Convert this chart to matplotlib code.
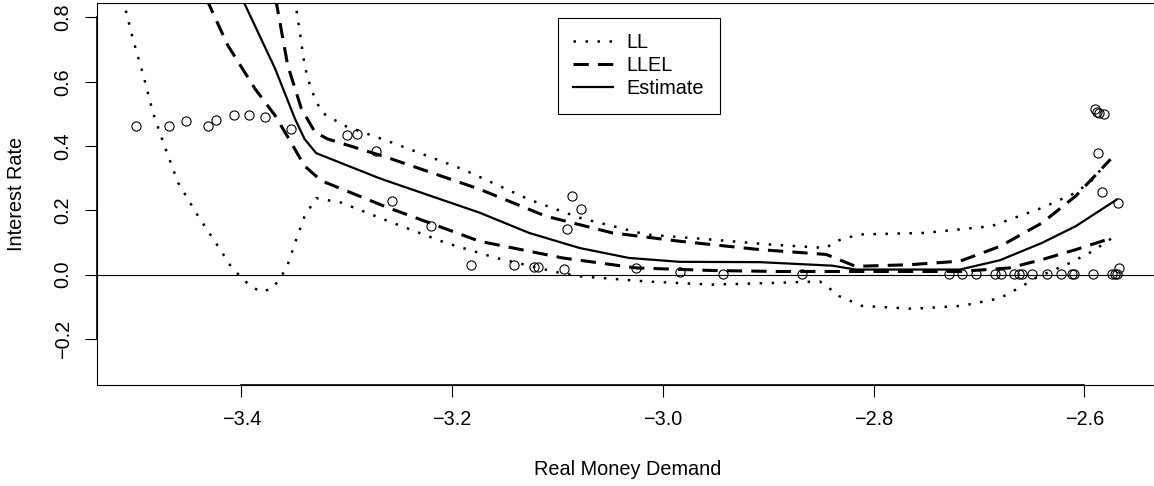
import matplotlib.pyplot as plt
import matplotlib.transforms as mtransforms

plt.rcParams['font.family'] = ['Liberation Sans', 'DejaVu Sans']

# observed points
obs_x = [-3.500, -3.469, -3.453, -3.432, -3.424, -3.407, -3.393, -3.378, -3.353,
         -3.300, -3.290, -3.272, -3.257, -3.220, -3.182, -3.141, -3.122, -3.118,
         -3.094, -3.091, -3.086, -3.078, -3.025, -2.984, -2.943, -2.868, -2.728,
         -2.716, -2.703, -2.685, -2.679, -2.667, -2.662, -2.659, -2.650, -2.635,
         -2.622, -2.612, -2.610, -2.592, -2.574, -2.571, -2.569, -2.567, -2.568,
         -2.583, -2.587, -2.590, -2.588, -2.586, -2.581]
obs_y = [0.463, 0.463, 0.477, 0.463, 0.482, 0.496, 0.496, 0.491, 0.454,
         0.433, 0.437, 0.386, 0.230, 0.150, 0.030, 0.030, 0.023, 0.023,
         0.019, 0.143, 0.246, 0.203, 0.020, 0.008, 0.002, 0.002, 0.001,
         0.001, 0.001, 0.001, 0.001, 0.001, 0.001, 0.001, 0.001, 0.001,
         0.001, 0.001, 0.001, 0.001, 0.001, 0.001, 0.001, 0.021, 0.223,
         0.256, 0.378, 0.515, 0.506, 0.502, 0.499]

# estimate
est_x = [-3.405, -3.398, -3.368, -3.349, -3.340, -3.329, -3.269, -3.255, -3.174,
         -3.127, -3.079, -3.032, -2.984, -2.908, -2.839, -2.817, -2.718, -2.680,
         -2.640, -2.608, -2.569]
est_y = [0.90, 0.85, 0.641, 0.484, 0.422, 0.378, 0.300, 0.284, 0.193,
         0.130, 0.083, 0.052, 0.040, 0.039, 0.028, 0.016, 0.016, 0.045,
         0.099, 0.151, 0.234]

# LLEL bands
llel_hi_x = [-3.369, -3.367, -3.356, -3.343, -3.330, -3.318, -3.262, -3.174, -3.111,
             -3.048, -2.984, -2.908, -2.845, -2.817, -2.766, -2.718, -2.680, -2.640,
             -2.608, -2.575]
llel_hi_y = [0.90, 0.85, 0.651, 0.516, 0.443, 0.422, 0.365, 0.266, 0.182,
             0.130, 0.104, 0.078, 0.063, 0.026, 0.031, 0.042, 0.088, 0.161,
             0.245, 0.359]
llel_lo_x = [-3.439, -3.432, -3.413, -3.387, -3.368, -3.353, -3.340, -3.324, -3.262,
             -3.174, -3.095, -3.025, -2.953, -2.890, -2.814, -2.718, -2.671, -2.640,
             -2.608, -2.573]
llel_lo_y = [0.90, 0.85, 0.714, 0.578, 0.495, 0.412, 0.338, 0.292, 0.210,
             0.104, 0.052, 0.021, 0.013, 0.010, 0.010, 0.010, 0.021, 0.047,
             0.078, 0.115]

# LL bands
ll_hi_x = [-3.350, -3.349, -3.345, -3.340, -3.334, -3.324, -3.302, -3.258, -3.190,
           -3.127, -3.079, -3.016, -2.953, -2.899, -2.845, -2.836, -2.814, -2.751,
           -2.688, -2.640, -2.608, -2.590, -2.585]
ll_hi_y = [0.90, 0.85, 0.766, 0.651, 0.578, 0.505, 0.463, 0.412, 0.328,
           0.234, 0.177, 0.125, 0.109, 0.094, 0.083, 0.104, 0.125, 0.130,
           0.151, 0.208, 0.255, 0.300, 0.325]
ll_lo_x = [-3.516, -3.512, -3.509, -3.503, -3.493, -3.484, -3.473, -3.460, -3.441,
           -3.422, -3.409, -3.392, -3.381, -3.370, -3.357, -3.349, -3.340, -3.329,
           -3.305, -3.261, -3.206, -3.158, -3.101, -3.079, -3.016, -2.953, -2.899,
           -2.851, -2.842, -2.833, -2.811, -2.763, -2.716, -2.680, -2.659, -2.646,
           -2.614, -2.592, -2.570]
ll_lo_y = [0.90, 0.85, 0.813, 0.734, 0.620, 0.505, 0.401, 0.286, 0.182,
           0.088, 0.021, -0.034, -0.054, -0.042, 0.021, 0.099, 0.182, 0.238,
           0.224, 0.167, 0.099, 0.052, 0.008, -0.005, -0.021, -0.031, -0.026,
           -0.021, -0.042, -0.066, -0.097, -0.106, -0.097, -0.073, -0.036, -0.010,
           0.036, 0.073, 0.122]

x_ticks = [-3.4, -3.2, -3.0, -2.8, -2.6]
y_ticks = [-0.2, 0.0, 0.2, 0.4, 0.6, 0.8]

fs = 14.3
dot = (0, (1, 3.8))
dash = (0, (5, 3))

fig = plt.figure(figsize=(11.54, 4.86), dpi=100)
ax = fig.add_axes([97 / 1154, 1 - 385.3 / 486, 1061 / 1154, 382 / 486])

ax.axhline(0, color='black', lw=0.8)
ax.plot(obs_x, obs_y, 'o', mfc='none', mec='black', ms=6.6, mew=0.8)

ax.plot(ll_lo_x, ll_lo_y, color='black', lw=1.8, linestyle=dot, label='LL')
ax.plot(ll_hi_x, ll_hi_y, color='black', lw=1.8, linestyle=dot)
ax.plot(llel_lo_x, llel_lo_y, color='black', lw=2.2, linestyle=dash, label='LLEL')
ax.plot(llel_hi_x, llel_hi_y, color='black', lw=2.2, linestyle=dash)
ax.plot(est_x, est_y, color='black', lw=1.6, label='Estimate')

ax.set_xlim(-3.537, -2.530)
ax.set_ylim(-0.344, 0.844)
ax.set_xticks(x_ticks)
ax.set_yticks(y_ticks)
ax.set_xticklabels([f"{v:.1f}".replace('-', '\u2212') for v in x_ticks])
ax.set_yticklabels([f"{v:.1f}".replace('-', '\u2212') for v in y_ticks],
                   rotation=90, va='center')
ax.tick_params(direction='out', length=8.6, width=0.8, labelsize=fs, pad=9.0)
for s in ax.spines.values():
    s.set_linewidth(0.8)

# R style axis lines spanning the ticks
tb = mtransforms.blended_transform_factory(ax.transData, ax.transAxes)
ax.plot([x_ticks[0], x_ticks[-1]], [0, 0], transform=tb, color='black', lw=1.2, clip_on=False)
tl = mtransforms.blended_transform_factory(ax.transAxes, ax.transData)
ax.plot([0, 0], [y_ticks[0], y_ticks[-1]], transform=tl, color='black', lw=1.2, clip_on=False)

ax.set_xlabel('Real Money Demand', fontsize=fs)
ax.set_ylabel('Interest Rate', fontsize=fs)
ax.xaxis.set_label_coords(0.5, -0.196)
ax.yaxis.set_label_coords(-0.067, 0.5)

leg = ax.legend(loc='upper left', bbox_to_anchor=(0.4342, 0.9623), fontsize=fs,
                frameon=True, fancybox=False, framealpha=1, edgecolor='black',
                borderaxespad=0, borderpad=0.78, labelspacing=0.2,
                handlelength=2.0, handletextpad=0.7)
leg.get_frame().set_linewidth(0.8)

fig.savefig('out.png', dpi=100)
